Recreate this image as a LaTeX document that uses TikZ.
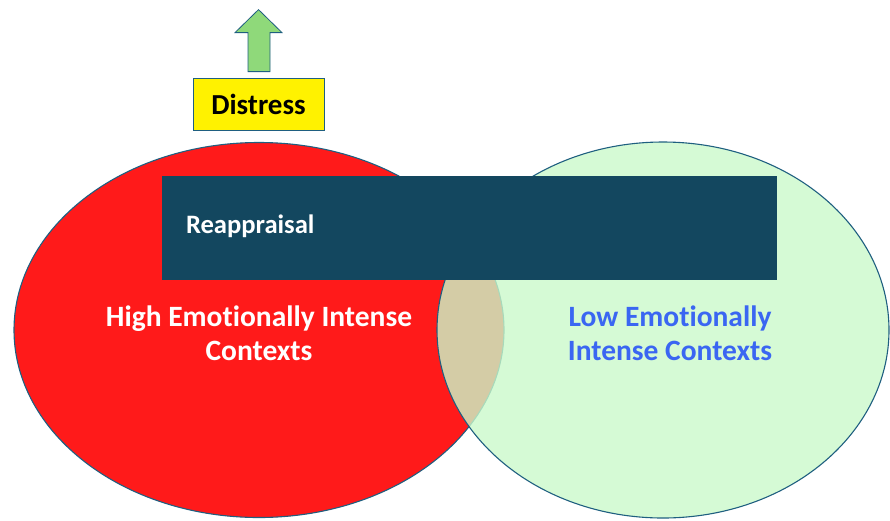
\documentclass[tikz,border=0pt]{standalone}
\usepackage{fontspec}
\setmainfont{Carlito}[RawFeature=-liga]
\usetikzlibrary{shapes.geometric,positioning}
\definecolor{venred}{HTML}{FF1A1A}
\definecolor{vengreen}{HTML}{CAF9CA}
\definecolor{venline}{HTML}{1F5F80}
\definecolor{boxblue}{HTML}{13475F}
\definecolor{lowblue}{HTML}{3A66F2}
\definecolor{arrowgreen}{HTML}{8FD97A}
\tikzset{
  context/.style = {
    ellipse, draw=venline, line width=1.1pt, inner sep=0pt
  },
  contextlabel/.style = {
    inner sep=0pt, align=center,
    font=\bfseries\fontsize{29.5}{34.5}\selectfont
  },
  outcome/.style = {
    draw=venline, thick, fill=yellow, inner sep=0pt,
    minimum width=131pt, minimum height=52pt,
    font=\bfseries\fontsize{29}{32}\selectfont
  }
}

\begin{document}
\begin{tikzpicture}[x=1pt,y=-1pt]
  \useasboundingbox (0,0) rectangle (890,520);
  % contexts
  \node[context, fill=venred,
    minimum width=490pt, minimum height=375pt] (high) at (259,330) {};
  \node[context, fill=vengreen, fill opacity=0.8,
    minimum width=452pt, minimum height=376pt] (low) at (663,330) {};
  \node[contextlabel, text=white] (highlabel) at ([yshift=-3pt]high.center)
    {High Emotionally Intense\\Contexts};
  \node[contextlabel, text=lowblue] (lowlabel) at ([xshift=7pt,yshift=-3pt]low.center)
    {Low Emotionally\\Intense Contexts};
  % strategy
  \node[fill=boxblue, inner sep=0pt,
    minimum width=615pt, minimum height=104pt] (strategy) at (469.5,228) {};
  \node[right=24pt of strategy.west, yshift=2pt, inner sep=0pt, text=white,
    font=\bfseries\fontsize{26.6}{30}\selectfont] (reappraisal) {Reappraisal};
  % outcome
  \node[outcome] (distress) at (258.5,104) {Distress};
  \draw[draw=venline, thick, fill=arrowgreen]
    ([xshift=-10.5pt,yshift=6pt]distress.north) -- ++(0,-39) -- ++(-13,0)
    -- ++(23.5,-23) -- ++(23.5,23) -- ++(-12,0) -- ++(0,39) -- cycle;
\end{tikzpicture}
\end{document}
